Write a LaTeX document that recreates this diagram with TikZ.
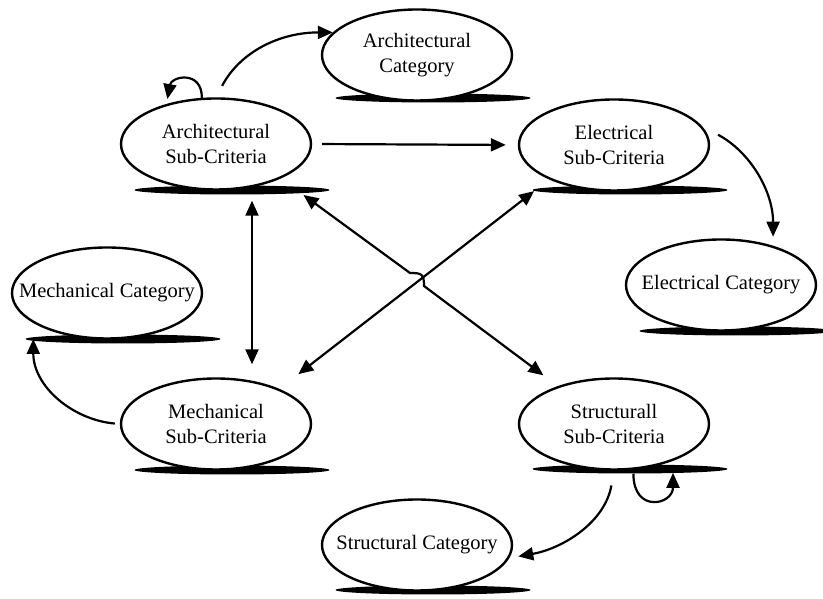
\documentclass[tikz,border=0pt]{standalone}
\usepackage{fontspec}
\setmainfont{Liberation Serif}
\usetikzlibrary{shapes.geometric,arrows.meta}

\begin{document}
\begin{tikzpicture}[
  x=1pt, y=1pt,
  crit/.style={ellipse, draw=black, fill=white, line width=2.4pt, minimum width=190pt, minimum height=91pt,
    inner xsep=-25pt, inner ysep=0pt, align=center, font=\fontsize{20.5}{25}\selectfont},
  blob/.style={ellipse, fill=black, inner sep=0pt, minimum width=195pt, minimum height=9pt},
  link/.style={line width=2.2pt, draw=black, -{Triangle[length=15pt,width=13pt]}},
  dlink/.style={link, {Triangle[length=15pt,width=13pt]}-{Triangle[length=15pt,width=13pt]}}
]
  \useasboundingbox (0,0) rectangle (823,599);

  % shadows under the ellipses
  \node[blob] (acsh) at (433,501) {};
  \node[blob] (assh) at (232,409) {};
  \node[blob] (essh) at (630,409) {};
  \node[blob] (ecsh) at (737,268) {};
  \node[blob] (mcsh) at (123,260) {};
  \node[blob] (mssh) at (232,129) {};
  \node[blob] (sssh) at (630,130) {};
  \node[blob] (scsh) at (433,9) {};

  % categories and sub-criteria
  \node[crit] (ac) at (417,544) {Architectural\\Category};
  \node[crit] (as) at (216,455) {Architectural\\Sub-Criteria};
  \node[crit] (es) at (614,454) {Electrical\\Sub-Criteria};
  \node[crit] (ec) at (721,314) {Electrical Category};
  \node[crit] (mc) at (107,306) {Mechanical Category};
  \node[crit] (ms) at (216,175) {Mechanical\\Sub-Criteria};
  \node[crit] (ss) at (614,175) {Structurall\\Sub-Criteria};
  \node[crit] (sc) at (417,54) {Structural Category};

  % line jump at the crossing
  \coordinate (j1) at (410,326);
  \coordinate (j2) at (424,313);

  % links
  \draw[link, shorten <=13pt] (as.north) to[out=62, in=180] (ac.165);
  \draw[link, shorten >=5pt] (as.107) to[out=90, in=80, looseness=2] (as.141);
  \draw[link, shorten <=10pt, shorten >=12pt] (as.east) -- (es.west);
  \draw[link, shorten <=18pt, shorten >=9pt] (es.12) to[out=-28, in=90] (ec.37);
  \draw[dlink, shorten <=10pt, shorten >=13pt] ([xshift=36pt]as.south) -- ([xshift=36pt]ms.north);
  \draw[link, shorten <=5pt] (ms.west) to[out=175, in=-90] ([xshift=8pt]mcsh.west);
  \draw[dlink, shorten <=28pt, shorten >=18pt] (as.-28) -- (j1) to[out=0, in=90, looseness=1.6] (j2) -- (ss.146);
  \draw[dlink, shorten <=19pt, shorten >=24pt] (es.208) -- (ms.29);
  \draw[link, shorten <=4pt, shorten >=12pt] (ss.-67) .. controls +(0,-44) and +(0,-44) .. (ss.-32);
  \draw[link, shorten <=15pt, shorten >=9pt] (ss.south) to[out=-100, in=10] (sc.-8);
\end{tikzpicture}
\end{document}
